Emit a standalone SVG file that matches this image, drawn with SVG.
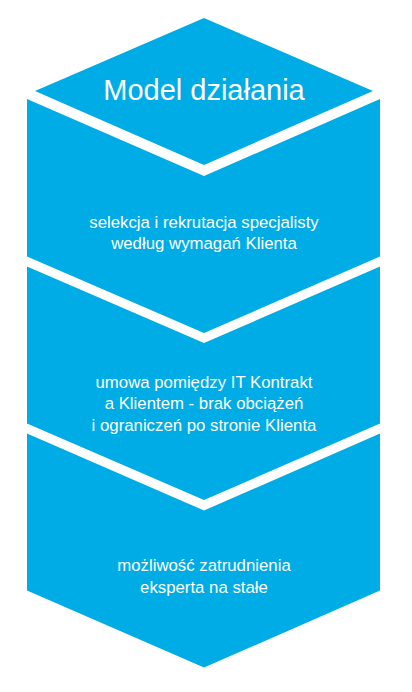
<svg xmlns="http://www.w3.org/2000/svg" width="412" height="692" viewBox="0 0 412 692">
<style>
.shape{fill:#00ACE5;}
.title{font-family:"Liberation Sans",Arial,sans-serif;font-size:29px;fill:#FFFFFF;text-anchor:middle;}
.lbl{font-family:"Liberation Sans",Arial,sans-serif;font-size:16.8px;fill:#FFFFFF;text-anchor:middle;}
</style>
<rect width="412" height="692" fill="#FFFFFF"/>
<g id="title-node">
<polygon class="shape" points="204,18 373,91 204,165 35,91"/>
<text class="title" x="204" y="99.5">Model działania</text>
</g>
<g id="step-1">
<polygon class="shape" points="27,99 204,176 380,99 380,256.5 204,333 27,256.5"/>
<text class="lbl" x="204" y="227.5">selekcja i rekrutacja specjalisty</text>
<text class="lbl" x="204" y="249">według wymagań Klienta</text>
</g>
<g id="step-2">
<polygon class="shape" points="27,266.5 204,343 380,266.5 380,423.5 204,500 27,423.5"/>
<text class="lbl" x="204" y="387.5">umowa pomiędzy IT Kontrakt</text>
<text class="lbl" x="204" y="409.3">a Klientem - brak obciążeń</text>
<text class="lbl" x="204" y="431">i ograniczeń po stronie Klienta</text>
</g>
<g id="step-3">
<polygon class="shape" points="27,433.5 204,510.5 380,433.5 380,590.5 204,667.5 27,590.5"/>
<text class="lbl" x="204" y="571">możliwość zatrudnienia</text>
<text class="lbl" x="204" y="592.7">eksperta na stałe</text>
</g>
</svg>
